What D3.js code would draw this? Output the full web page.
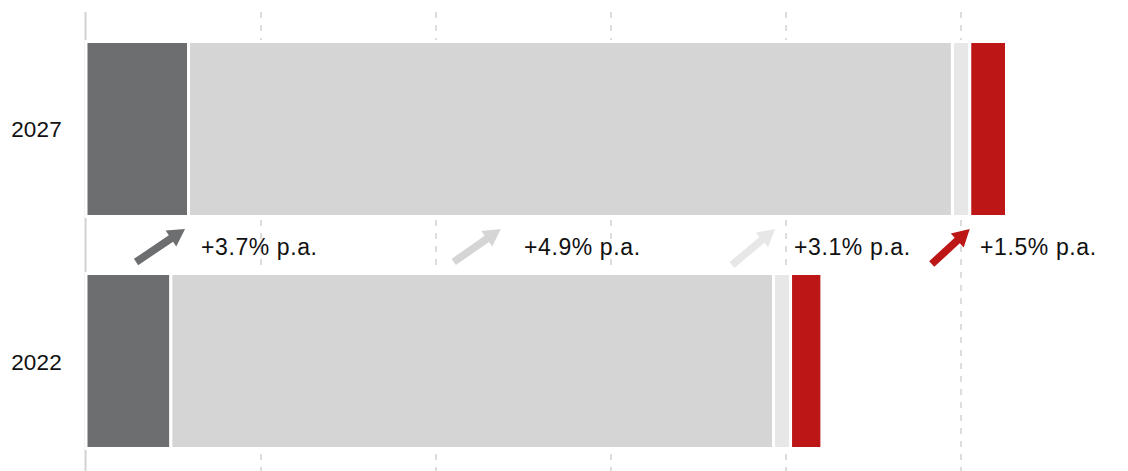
<!DOCTYPE html>
<html>
<head>
<meta charset="utf-8">
<script src="https://cdn.jsdelivr.net/npm/d3@7/dist/d3.min.js"></script>
<style>
  html, body { margin: 0; padding: 0; background: #fff; }
  svg { display: block; font-family: "Liberation Sans", Arial, Helvetica, sans-serif; }
</style>
</head>
<body>
<svg id="chart" width="1128" height="471"></svg>
<script>
// ---- data ----
const categories = ["2027", "2022"];
const seriesA = [58.6, 48.5];     // dark grey
const seriesB = [436.5, 344.4];   // light grey
const seriesC = [9.9, 9.7];       // very light grey
const seriesD = [21.0, 17.9];     // red
const tickValues = [0, 100, 200, 300, 400, 500];
const growthLabels = ["+3.7% p.a.", "+4.9% p.a.", "+3.1% p.a.", "+1.5% p.a."];
const arrowTipValues = [56.6, 237, 393.7, 505];
const labelValues = [65.7, 250.3, 404.6, 510.9];

const colors = ["#6d6e70", "#d5d5d5", "#e7e7e7", "#bc1616"];
const arrowDx = [49, 47, 43, 38];
const arrowDy = [-33, -33, -36, -35];

// ---- layout ----
const W = 1128, H = 471;
const svg = d3.select("#chart");

const x = d3.scaleLinear().domain([0, 500]).range([86, 961]);
const y = d3.scaleBand().domain(categories).range([12.5, 477.5])
  .paddingInner(0.2457).paddingOuter(0.125);

// gridlines
const grid = svg.append("g");
grid.selectAll("line.g").data(tickValues.filter(d => d !== 0)).join("line")
  .attr("x1", d => x(d)).attr("x2", d => x(d))
  .attr("y1", 12).attr("y2", H)
  .attr("stroke", "#d2d2d2").attr("stroke-width", 1.5)
  .attr("stroke-dasharray", "6,7");
grid.append("line")
  .attr("x1", x(0) - 0.5).attr("x2", x(0) - 0.5)
  .attr("y1", 12).attr("y2", H)
  .attr("stroke", "#d2d2d2").attr("stroke-width", 2);

// stacked bars
const rows = categories.map((c, i) => ({ cat: c, a: seriesA[i], b: seriesB[i], c: seriesC[i], d: seriesD[i] }));
const stack = d3.stack().keys(["a", "b", "c", "d"]);
const layers = stack(rows);

svg.append("g").selectAll("g").data(layers).join("g")
  .attr("fill", (d, i) => colors[i])
  .selectAll("rect").data(d => d).join("rect")
  .attr("x", d => x(d[0]))
  .attr("width", d => x(d[1]) - x(d[0]))
  .attr("y", d => y(d.data.cat))
  .attr("height", y.bandwidth())
  .attr("stroke", "#fff").attr("stroke-width", 3);

// category labels
svg.append("g").selectAll("text").data(categories).join("text")
  .attr("x", 62)
  .attr("y", d => y(d) + y.bandwidth() / 2 + 1)
  .attr("text-anchor", "end")
  .attr("dominant-baseline", "central")
  .attr("font-size", 22.5)
  .attr("letter-spacing", 0.2)
  .attr("fill", "#111")
  .text(d => d);

// growth arrows
const midY = (y(categories[0]) + y.bandwidth() + y(categories[1])) / 2;
const hs = 3.8, hl = 17, hw = 9.5;

const ann = svg.append("g");
ann.selectAll("path").data(arrowTipValues).join("path")
  .attr("d", (d, i) => {
    const L = Math.hypot(arrowDx[i], arrowDy[i]);
    const pts = [[0, -hs], [L - hl, -hs], [L - hl, -hw], [L, 0], [L - hl, hw], [L - hl, hs], [0, hs]];
    return d3.line()(pts) + "Z";
  })
  .attr("fill", (d, i) => colors[i])
  .attr("transform", (d, i) => {
    const ang = Math.atan2(arrowDy[i], arrowDx[i]) * 180 / Math.PI;
    return `translate(${x(d) - arrowDx[i]},${midY - 16 - arrowDy[i]}) rotate(${ang})`;
  });

ann.selectAll("text").data(growthLabels).join("text")
  .attr("x", (d, i) => x(labelValues[i]))
  .attr("y", midY + 2)
  .attr("dominant-baseline", "central")
  .attr("font-size", 23)
  .attr("letter-spacing", 0.6)
  .attr("fill", "#111")
  .text(d => d);
</script>
</body>
</html>
